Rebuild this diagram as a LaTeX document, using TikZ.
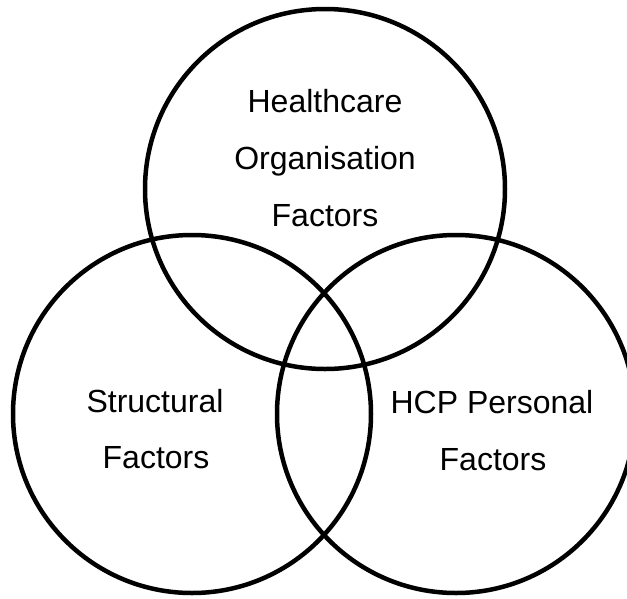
\documentclass[tikz,border=0pt]{standalone}
\usepackage{fontspec}
\setmainfont{Liberation Sans}
\begin{document}
\begin{tikzpicture}[x=1pt,y=-1pt,
  ring/.style={draw=black,line width=4.5pt},
  lbl/.style={anchor=base,inner sep=0pt,font=\fontsize{32}{38}\selectfont}]
\useasboundingbox (0,0) rectangle (627,598);
\clip (0,0) rectangle (627,598);
\fill[white] (0,0) rectangle (627,598);
\draw[ring] (325,189) circle[radius=180];
\draw[ring] (192,414) circle[radius=179];
\draw[ring] (456,414) circle[radius=179];
\node[lbl] (h1) at (325,112) {Healthcare};
\node[lbl] (h2) at (325,169) {Organisation};
\node[lbl] (h3) at (325,226) {Factors};
\node[lbl] (s1) at (155,412) {Structural};
\node[lbl] (s2) at (156,468) {Factors};
\node[lbl] (p1) at (492,413) {HCP Personal};
\node[lbl] (p2) at (493,470) {Factors};
\end{tikzpicture}
\end{document}
